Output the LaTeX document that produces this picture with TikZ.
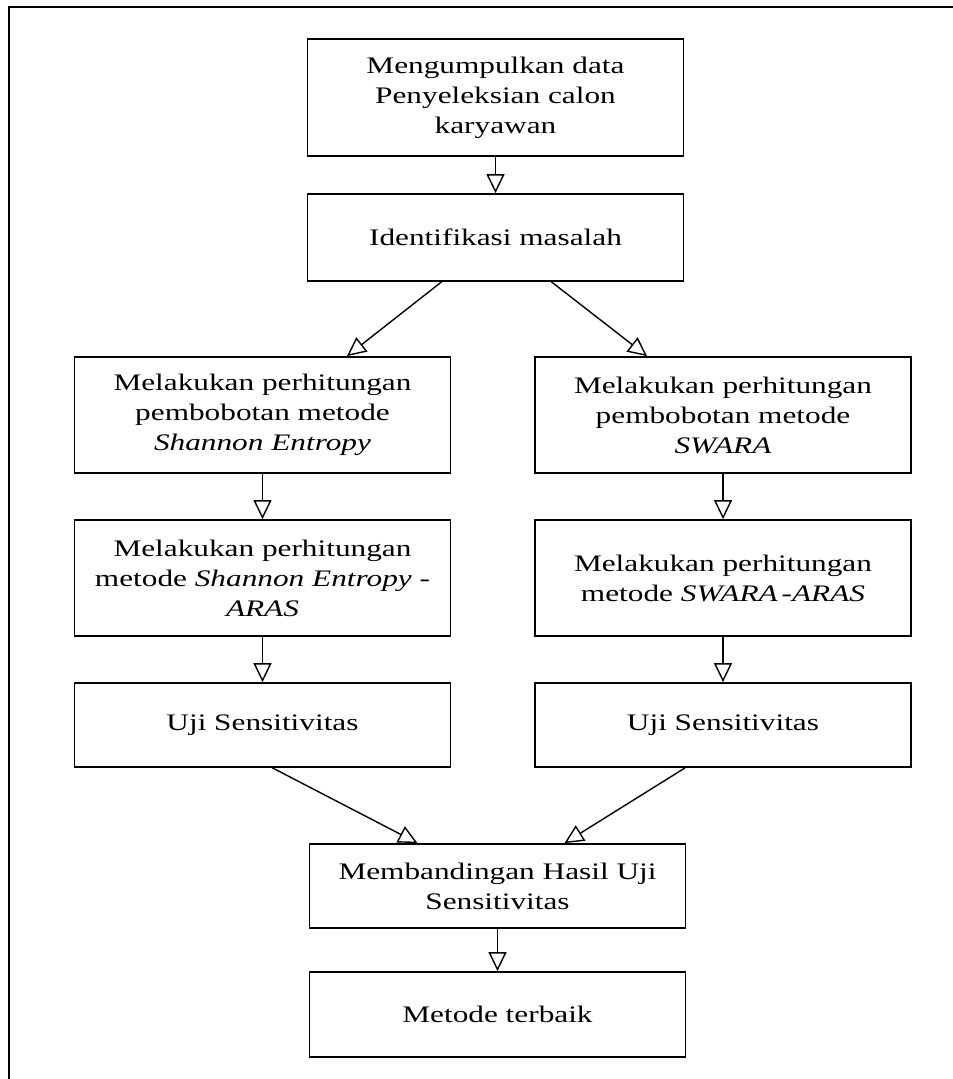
\documentclass[tikz,border=0pt]{standalone}
\usepackage{fontspec}
\setmainfont{Liberation Serif}[FakeStretch=1.32]
\usetikzlibrary{arrows.meta}
\begin{document}
\begin{tikzpicture}[x=1pt,y=-1pt,
  box/.style={draw, line width=1.8pt, minimum width=376pt, align=center, inner sep=0pt,
    font=\fontsize{23.7}{30}\selectfont},
  tall/.style={box, minimum height=116pt},
  short/.style={box, minimum height=85pt},
  flow/.style={line width=1.4pt, -{Triangle[open, length=19pt, width=18pt, line width=1.4pt]}}]
\useasboundingbox (0,0) rectangle (953,1079);
\coordinate (fl) at (9,1079);
\coordinate (fc) at (9,7);
\coordinate (fr) at (953,7);
\draw[line width=2pt] (fl) -- (fc) -- (fr);

\node[box, minimum height=116.5pt] (b1) at (495.5,97.5) {Mengumpulkan data\\Penyeleksian calon\\karyawan};
\node[box, minimum height=87pt] (b2) at (495.5,237.5) {Identifikasi masalah};
\node[tall] (b3) at (262.5,415) {Melakukan perhitungan\\pembobotan metode\\\textit{Shannon Entropy}};
\node[tall] (b4) at (723,415) {Melakukan perhitungan\\pembobotan metode\\\textit{SWARA}};
\node[tall] (b5) at (262.5,578) {Melakukan perhitungan\\metode \textit{Shannon Entropy} -\\\textit{ARAS}};
\node[tall] (b6) at (723,578) {Melakukan perhitungan\\metode \textit{SWARA\,-ARAS}};
\node[short, minimum height=84pt] (b7) at (262.5,725) {Uji Sensitivitas};
\node[short, minimum height=84pt] (b8) at (723,725) {Uji Sensitivitas};
\node[short, minimum height=84pt] (b9) at (497.5,886) {Membandingan Hasil Uji\\Sensitivitas};
\node[short] (b10) at (497.5,1014.5) {Metode terbaik};

\draw[flow] (b1) -- (b2);
\draw[flow] ([xshift=-54pt]b2.south) -- ([xshift=84.5pt]b3.north);
\draw[flow] ([xshift=56pt]b2.south) -- ([xshift=-76pt]b4.north);
\draw[flow] (b3) -- (b5);
\draw[flow] (b5) -- (b7);
\draw[flow] (b4) -- (b6);
\draw[flow] (b6) -- (b8);
\draw[flow] ([xshift=10pt]b7.south) -- ([xshift=-80pt]b9.north);
\draw[flow] ([xshift=-38pt]b8.south) -- ([xshift=67pt]b9.north);
\draw[flow] (b9) -- (b10);
\end{tikzpicture}
\end{document}
